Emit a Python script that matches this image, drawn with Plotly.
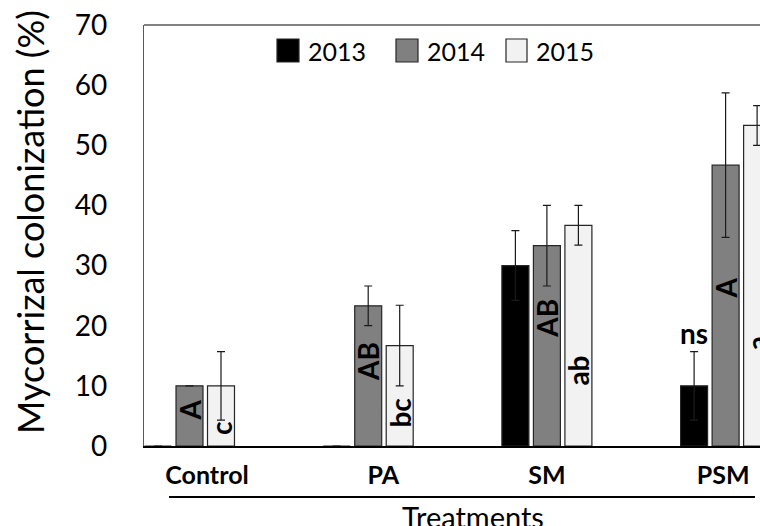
import plotly.graph_objects as go

# ---------------- data ----------------
treatments = ["Control", "PA", "SM", "PSM"]
years = ["2013", "2014", "2015"]
vals_2013 = [0.0, 0.0, 30.0, 10.0]
vals_2014 = [10.0, 23.3, 33.3, 46.7]
vals_2015 = [10.0, 16.7, 36.7, 53.3]
err_2013 = [0.0, 0.0, 5.8, 5.7]
err_2014 = [0.0, 3.3, 6.7, 12.0]
err_2015 = [5.7, 6.7, 3.3, 3.3]
letters_2013 = ["", "", "", "ns"]
letters_2014 = ["A", "AB", "AB", "A"]
letters_2015 = ["c", "bc", "ab", "a"]

# ---------------- layout constants ----------------
W, H = 760, 526
ML, MR, MT, MB = 144, 0, 25, 80
PW, PH = W - ML - MR, H - MT - MB
FONT = "Lato"
colors = ["#000000", "#808080", "#f2f2f2"]
bar_offsets = [-0.1763, 0.0, 0.1763]
bar_width = 0.151
label_shift = [0.098, 0.084, 0.0, -0.014]
# vertical placement (in axis units) of significance letters
letter_y = [[None, None, None, 18.8], [6.0, 14.0, 21.3, 26.3], [3.0, 5.5, 12.6, 17.1]]
letter_angle = [0, -90, -90]


def px(x):
    return (x - ML) / PW


def py(y):
    return (MT + PH - y) / PH


series_vals = [vals_2013, vals_2014, vals_2015]
series_err = [err_2013, err_2014, err_2015]
series_letters = [letters_2013, letters_2014, letters_2015]

fig = go.Figure()
for k, yr in enumerate(years):
    xs = [i + bar_offsets[k] for i in range(len(treatments))]
    fig.add_trace(go.Bar(
        x=xs, y=series_vals[k], width=bar_width, name=yr,
        marker=dict(color=colors[k], line=dict(color="#262626", width=1.2)),
        error_y=dict(type="data", array=series_err[k], visible=True,
                     color="#1a1a1a", thickness=1.2, width=4),
        showlegend=False,
    ))

annotations = []
for k in range(3):
    for i, txt in enumerate(series_letters[k]):
        if not txt:
            continue
        annotations.append(dict(
            x=i + bar_offsets[k], y=letter_y[k][i], xref="x", yref="y",
            text=txt, showarrow=False, textangle=letter_angle[k],
            font=dict(family=FONT, size=28, color="black", weight="bold"),
        ))

# manual legend
legend_sq = [(277, 299), (396, 418), (506, 527)]
shapes = []
for k, yr in enumerate(years):
    x0, x1 = legend_sq[k]
    shapes.append(dict(type="rect", xref="paper", yref="paper",
                       x0=px(x0), x1=px(x1), y0=py(62), y1=py(39),
                       fillcolor=colors[k], line=dict(color="#262626", width=1.2)))
    annotations.append(dict(x=px(x1 + 7), y=py(51), xref="paper", yref="paper",
                            text=yr, showarrow=False, xanchor="left", yanchor="middle",
                            font=dict(family=FONT, size=25, color="black")))

# top border of plot area
shapes.append(dict(type="line", xref="paper", yref="paper", x0=0, x1=1, y0=1, y1=1,
                   line=dict(color="#595959", width=1.3)))
# line above "Treatments"
shapes.append(dict(type="line", xref="paper", yref="paper", x0=px(169), x1=px(755),
                   y0=py(497), y1=py(497), line=dict(color="black", width=2)))

annotations.append(dict(x=px(473), y=py(516), xref="paper", yref="paper",
                        text="Treatments", showarrow=False, xanchor="center", yanchor="middle",
                        font=dict(family=FONT, size=29, color="black")))
annotations.append(dict(x=px(30), y=py(222), xref="paper", yref="paper",
                        text="Mycorrizal colonization (%)", showarrow=False, textangle=-90,
                        xanchor="center", yanchor="middle",
                        font=dict(family=FONT, size=36, color="black")))

fig.update_layout(
    width=W, height=H,
    margin=dict(l=ML, r=MR, t=MT, b=MB),
    paper_bgcolor="white", plot_bgcolor="white",
    barmode="overlay",
    shapes=shapes, annotations=annotations,
    xaxis=dict(range=[-0.2546, 3.1925], showgrid=False, zeroline=False,
               showline=True, linecolor="black", linewidth=1.5, ticks="",
               tickvals=[i + label_shift[i] for i in range(len(treatments))],
               ticktext=treatments, ticklabelstandoff=6,
               tickfont=dict(family=FONT, size=25, color="black", weight="bold")),
    yaxis=dict(range=[0, 70], dtick=10, showgrid=False, zeroline=False,
               showline=True, linecolor="#595959", linewidth=1.3, ticks="",
               ticklabelstandoff=30,
               tickfont=dict(family=FONT, size=28, color="black")),
)

fig.write_html("out.html", config={"displayModeBar": False},
               post_script="document.body.style.margin='0';document.body.style.overflow='hidden';")
